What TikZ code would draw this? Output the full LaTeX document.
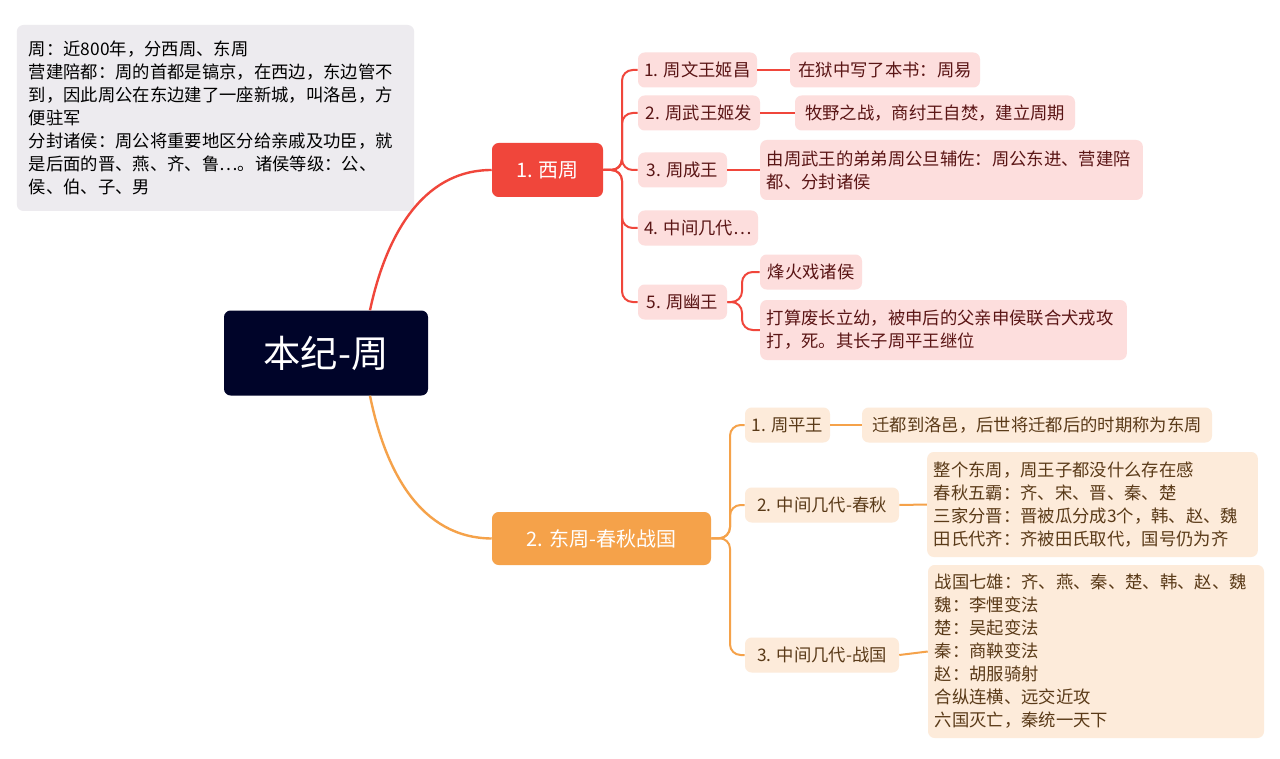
\documentclass[tikz,border=0pt]{standalone}
\usepackage{fontspec}
\setmainfont{Noto Sans CJK SC}
\usetikzlibrary{calc}
\definecolor{rootc}{HTML}{000429}
\definecolor{redm}{HTML}{F0463B}
\definecolor{orm}{HTML}{F5A24A}
\definecolor{redl}{HTML}{FDDEDD}
\definecolor{orl}{HTML}{FDEBDA}
\definecolor{redt}{HTML}{5A1515}
\definecolor{ort}{HTML}{5A3A18}
\definecolor{noteb}{HTML}{EDEBEF}
\begin{document}
\begin{tikzpicture}[x=0.75pt,y=-0.75pt,
  base/.style={rounded corners=5pt,inner sep=0pt,font=\fontsize{13}{17.25}\selectfont},
  rb/.style={base,fill=redl,text=redt,minimum height=26.25pt},
  ob/.style={base,fill=orl,text=ort,minimum height=26.25pt},
  rl/.style={redm,line width=1.5pt,rounded corners=8pt},
  ol/.style={orm,line width=1.5pt,rounded corners=8pt}]
\useasboundingbox (0,0) rectangle (1280,759);
\fill[white] (0,0) rectangle (1280,759);
% note
\node[base,fill=noteb,text=black,align=left,text width=280pt,minimum height=139.5pt,inner xsep=9pt] (note) at (215.5,118) {周：近800年，分西周、东周\\营建陪都：周的首都是镐京，在西边，东边管不\\到，因此周公在东边建了一座新城，叫洛邑，方\\便驻军\\分封诸侯：周公将重要地区分给亲戚及功臣，就\\是后面的晋、燕、齐、鲁…。诸侯等级：公、\\侯、伯、子、男};
% main
\node[base,fill=rootc,text=white,minimum width=153pt,minimum height=63.75pt,font=\fontsize{28}{30}\selectfont] (root) at (326,353) {本纪-周};
\node[base,fill=redm,text=white,minimum width=83.25pt,minimum height=40.5pt,font=\fontsize{15}{17}\selectfont] (xz) at (547.5,170) {1. 西周};
\node[base,fill=orm,text=white,minimum width=164.25pt,minimum height=39.75pt,font=\fontsize{15}{17}\selectfont] (dz) at (601.5,538.5) {2. 东周-春秋战国};
\draw[redm,line width=1.8pt] ($(root.north)+(44,0)$) .. controls (385,240) and (420,170) .. (xz.west);
\draw[orm,line width=1.8pt] ($(root.south)+(44,0)$) .. controls (385,470) and (420,538) .. (dz.west);
% red children
\node[rb,minimum width=89.25pt] (c1) at (697.5,70) {1. 周文王姬昌};
\node[rb,minimum width=142.5pt] (c1b) at (885,70) {在狱中写了本书：周易};
\node[rb,minimum width=91.5pt] (c2) at (699,113) {2. 周武王姬发};
\node[rb,minimum width=210pt] (c2b) at (935,113) {牧野之战，商纣王自焚，建立周期};
\node[rb,minimum width=66.75pt] (c3) at (682.5,170) {3. 周成王};
\node[rb,minimum height=45pt,text width=277pt,align=left,inner xsep=5pt] (c3b) at (951.5,170) {由周武王的弟弟周公旦辅佐：周公东进、营建陪\\都、分封诸侯};
\node[rb,minimum width=90pt] (c4) at (698,228) {4. 中间几代…};
\node[rb,minimum width=66.75pt] (c5) at (682.5,302) {5. 周幽王};
\node[rb,minimum width=76.5pt] (c5a) at (811,272) {烽火戏诸侯};
\node[rb,minimum height=45pt,text width=265pt,align=left,inner xsep=5pt] (c5b) at (943.5,330) {打算废长立幼，被申后的父亲申侯联合犬戎攻\\打，死。其长子周平王继位};
\foreach \c in {c1,c2,c3,c4,c5}
  \draw[rl] (xz.east) -- (622,170) |- (\c.west);
\draw[rl] (c1.east) -- (c1b.west);
\draw[rl] (c2.east) -- (c2b.west);
\draw[rl] (c3.east) -- (c3b.west);
\draw[rl] (c5.east) -- (742,302) |- (c5a.west);
\draw[rl] (c5.east) -- (742,302) |- (c5b.west);
% orange children
\node[ob,minimum width=63.75pt] (d1) at (787.5,425) {1. 周平王};
\node[ob,minimum width=262.5pt] (d1b) at (1037,425) {迁都到洛邑，后世将迁都后的时期称为东周};
\node[ob,minimum width=115.5pt] (d2) at (822,505) {2. 中间几代-春秋};
\node[ob,minimum height=78.75pt,text width=238pt,align=left,inner xsep=5pt] (d2b) at (1092.5,504.5) {整个东周，周王子都没什么存在感\\春秋五霸：齐、宋、晋、秦、楚\\三家分晋：晋被瓜分成3个，韩、赵、魏\\田氏代齐：齐被田氏取代，国号仍为齐};
\node[ob,minimum height=129.75pt,text width=242pt,align=left,inner xsep=5pt] (d3b) at (1096,651.5) {战国七雄：齐、燕、秦、楚、韩、赵、魏\\魏：李悝变法\\楚：吴起变法\\秦：商鞅变法\\赵：胡服骑射\\合纵连横、远交近攻\\六国灭亡，秦统一天下};
\node[ob,minimum width=115.5pt] (d3) at (822,655) {3. 中间几代-战国};
\foreach \c in {d1,d2,d3}
  \draw[ol] (dz.east) -- (730,538) |- (\c.west);
\draw[ol] (d1.east) -- (d1b.west);
\draw[ol] (d2.east) -- (d2b.west);
\draw[ol] (d3.east) -- (d3b.west);
\end{tikzpicture}
\end{document}
